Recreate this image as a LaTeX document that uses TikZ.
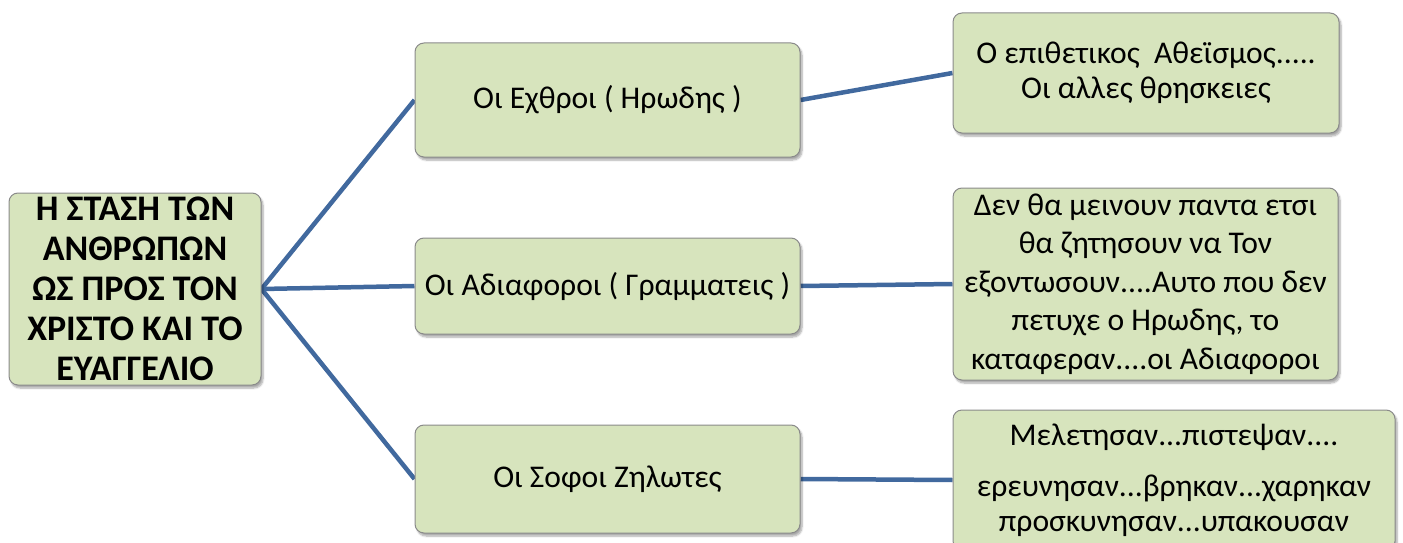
\documentclass[tikz,border=0pt]{standalone}
\usepackage{fontspec}
\setmainfont{Carlito}
\usetikzlibrary{shadows.blur,backgrounds}
\definecolor{boxfill}{HTML}{D7E4BD}
\definecolor{boxline}{HTML}{8A8A8A}
\definecolor{linkblue}{HTML}{41699E}
\tikzset{
  box/.style={draw=boxline, line width=1pt, fill=boxfill, rounded corners=9pt,
    inner sep=0pt, align=center, text=black,
    blur shadow={shadow xshift=2pt, shadow yshift=-3pt, shadow blur steps=6, shadow opacity=35}},
  txt/.style={font=\fontsize{31.6}{38.5}\selectfont},
  roottxt/.style={font=\fontsize{36}{40}\selectfont\bfseries},
  link/.style={draw=linkblue, line width=4.5pt}
}
\begin{document}
\begin{tikzpicture}[x=1pt,y=-1pt]
\useasboundingbox (0,0) rectangle (1403,543);
\node[box, roottxt, minimum width=252pt, minimum height=192pt] (root) at (135,289)
  {Η ΣΤΑΣΗ ΤΩΝ\\ ΑΝΘΡΩΠΩΝ\\ ΩΣ ΠΡΟΣ ΤΟΝ\\ ΧΡΙΣΤΟ ΚΑΙ ΤΟ\\ ΕΥΑΓΓΕΛΙΟ};
\node[box, txt, minimum width=385pt, minimum height=114pt] (ech) at (607.5,100)
  {Οι Εχθροι ( Ηρωδης )};
\node[box, txt, minimum width=385pt, minimum height=96pt] (adi) at (607.5,286)
  {Οι Αδιαφοροι ( Γραμματεις )};
\node[box, txt, minimum width=385pt, minimum height=108pt] (sof) at (607.5,479)
  {Οι Σοφοι Ζηλωτες};
\node[box, txt, minimum width=386pt, minimum height=120pt] (r1) at (1146,73)
  {Ο επιθετικος\ \ Αθεϊσμος.....\\[-3pt] Οι αλλες θρησκειες};
\node[box, txt, minimum width=385pt, minimum height=192pt] (r2) at (1145.5,284)
  {Δεν θα μεινουν παντα ετσι\\ θα ζητησουν να Τον\\ εξοντωσουν....Αυτο που δεν\\ πετυχε ο Ηρωδης, το\\ καταφεραν....οι Αδιαφοροι};
\node[box, txt, minimum width=442pt, minimum height=140pt] (r3) at (1174,480)
  {Μελετησαν...πιστεψαν....\\[12.5pt] ερευνησαν...βρηκαν...χαρηκαν\\[-3.5pt] προσκυνησαν...υπακουσαν};
\begin{pgfonlayer}{background}
\draw[link] (root.east) -- (ech.west);
\draw[link] (root.east) -- (adi.west);
\draw[link] (root.east) -- (sof.west);
\draw[link] (ech.east) -- (r1.west);
\draw[link] (adi.east) -- (r2.west);
\draw[link] (sof.east) -- (r3.west);
\end{pgfonlayer}
\end{tikzpicture}
\end{document}
